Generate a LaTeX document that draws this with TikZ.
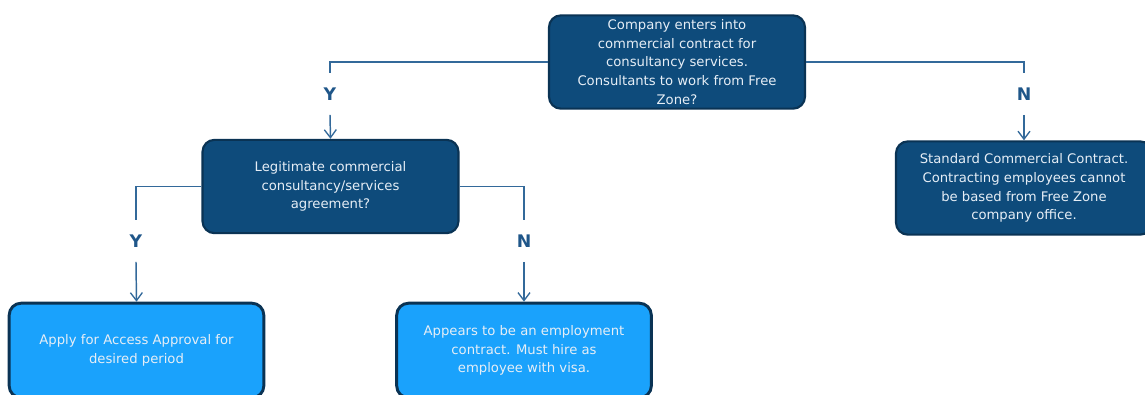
\documentclass[tikz,border=0pt]{standalone}
\usepackage{fontspec}
\setmainfont{DejaVu Sans}
\usetikzlibrary{arrows.meta}
\definecolor{darkbox}{HTML}{0E4B7B}
\definecolor{darkedge}{HTML}{0A3354}
\definecolor{lightbox}{HTML}{1AA2FC}
\definecolor{linkblue}{HTML}{33699A}
\definecolor{labelblue}{HTML}{1F5689}
\definecolor{boxtext}{HTML}{E6EEF6}
\tikzset{
	question/.style={draw=darkedge, fill=darkbox, line width=1.6pt, rounded corners=9pt, text=boxtext, align=center, font=\fontsize{9.9}{14.1}\selectfont, minimum width=192pt, minimum height=70pt, inner sep=2pt},
	outcome/.style={draw=darkedge, fill=lightbox, line width=2.2pt, rounded corners=9pt, text=boxtext, align=center, font=\fontsize{9.9}{14.1}\selectfont, minimum width=191pt, minimum height=71pt, inner sep=2pt},
	answer/.style={text=labelblue, font=\fontsize{13}{14}\selectfont\bfseries, minimum height=31pt, inner sep=0pt},
	link/.style={draw=linkblue, line width=1.1pt},
	arrow/.style={link, -{Straight Barb[length=6pt, width=9pt, line width=1pt]}}
}
\begin{document}
\begin{tikzpicture}[x=0.75pt, y=-0.75pt]
		\useasboundingbox (0,0) rectangle (1145,394);
		\clip (0,0) rectangle (1145,394);
		
		\node [question] (company) at (677,62) {Company enters into\\commercial contract for\\consultancy services.\\Consultants to work from Free\\Zone?};
		\node [question] (legit) at (330.5,186.5) {Legitimate commercial\\consultancy/services\\agreement?};
		\node [question] (standard) at (1024,188) {Standard Commercial Contract.\\Contracting employees cannot\\be based from Free Zone\\company office.};
		
		\node [outcome] (apply) at (136.5,350.5) {Apply for Access Approval for\\desired period};
		\node [outcome] (employ) at (524,350.5) {Appears to be an employment\\contract. Must hire as\\employee with visa.};
		
		\node [answer] (yes1) at (330,94) {Y};
		\node [answer] (no1) at (1024,94) {N};
		\node [answer] (yes2) at (136,241) {Y};
		\node [answer] (no2) at (524,241) {N};
		
		\draw [link] (company.west) -| (yes1.north);
		\draw [link] (company.east) -| (no1.north);
		\draw [link] (legit.west) -| (yes2.north);
		\draw [link] (legit.east) -| (no2.north);
		
		\draw [arrow] (yes1.south) -- (legit.north);
		\draw [arrow] (no1.south) -- (standard.north);
		\draw [arrow] (yes2.south) -- (apply.north);
		\draw [arrow] (no2.south) -- (employ.north);
	\end{tikzpicture}
\end{document}
